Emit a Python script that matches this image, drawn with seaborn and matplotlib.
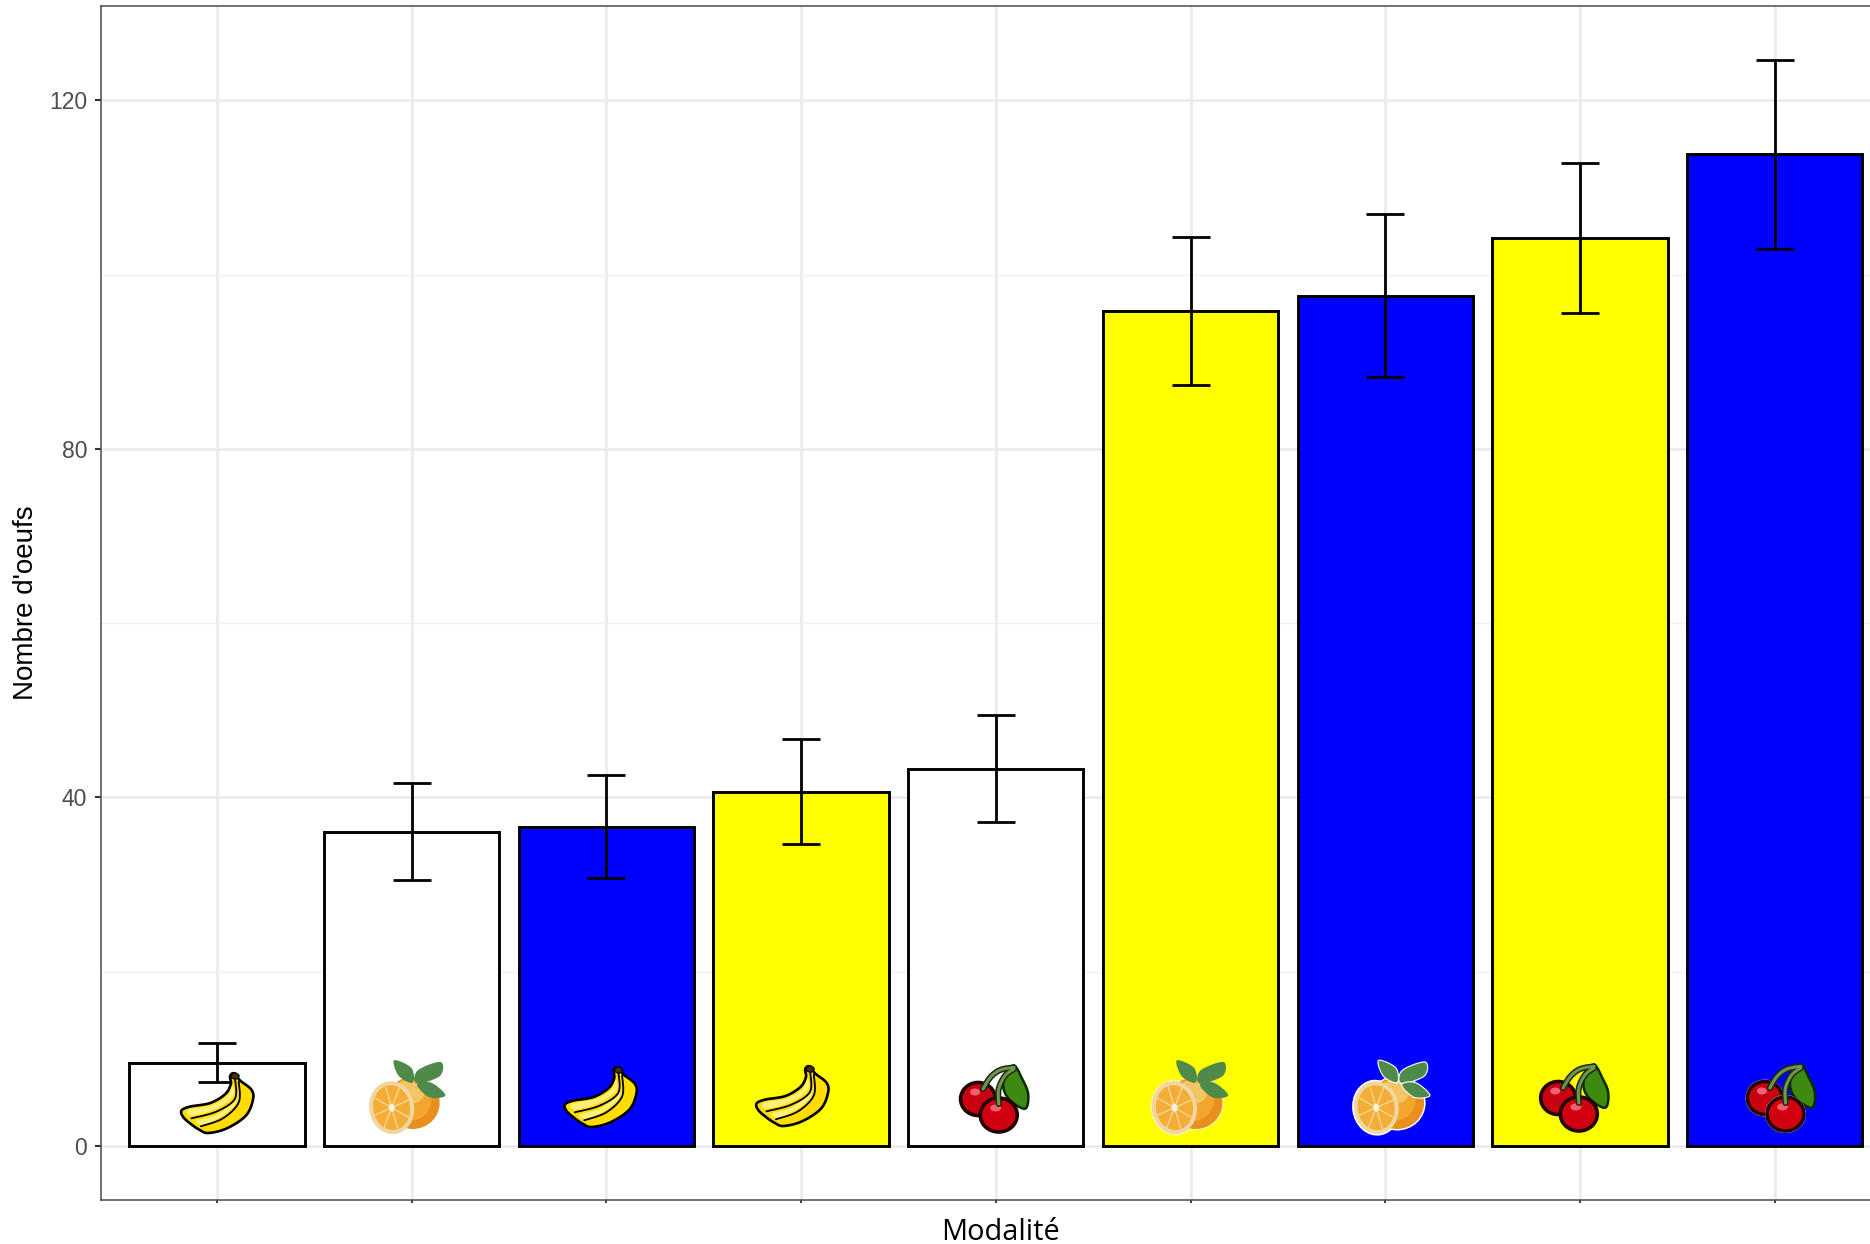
import numpy as np
import pandas as pd
import matplotlib
matplotlib.use("Agg")
import matplotlib.pyplot as plt
import seaborn as sns
from matplotlib.patches import Ellipse, PathPatch
from matplotlib.path import Path
from matplotlib.transforms import Affine2D

# ---- data
modalities = ["Banane-Témoin", "Orange-Témoin", "Banane-Bleu", "Banane-Jaune", "Cerise-Témoin",
              "Orange-Jaune", "Orange-Bleu", "Cerise-Jaune", "Cerise-Bleu"]
fruits = ["banana", "orange", "banana", "banana", "cherry", "orange", "orange", "cherry", "cherry"]
bar_colors = ["white", "white", "blue", "yellow", "white", "yellow", "blue", "yellow", "blue"]
eggs = [9.5, 36.0, 36.6, 40.6, 43.3, 95.8, 97.5, 104.2, 113.8]
err_low = [7.3, 30.5, 30.7, 34.6, 37.2, 87.3, 88.2, 95.6, 102.9]
err_high = [11.8, 41.6, 42.6, 46.7, 49.4, 104.3, 106.9, 112.8, 124.6]
y_ticks = [0, 40, 80, 120]
y_minor = [20, 60, 100]

# icon placement relative to each bar (px from bar centre, px above y=0)
icon_dx = [0, -5, -6, -9, -2, -1, 6, -6, 6]
icon_dy = [43, 49, 49, 50, 48, 49, 49, 49, 49]

W, H = 1870, 1244
L, T, B = 101, 6, 1200
sns.set_theme(style="white")
plt.rcParams["font.family"] = ["Liberation Sans", "DejaVu Sans"]

fig = plt.figure(figsize=(W / 100, H / 100), dpi=100, facecolor="white")
ax = fig.add_axes([L / W, 1 - B / H, 1 - L / W, (B - T) / H])

df = pd.DataFrame({"mod": modalities, "eggs": eggs})
sns.barplot(data=df, x="mod", y="eggs", hue="mod", order=modalities, hue_order=modalities,
            palette=bar_colors, legend=False, width=0.9, edgecolor="black", linewidth=2.1,
            saturation=1, ax=ax, zorder=3, errorbar=None)
xs = np.arange(len(modalities))
eggs_a = np.array(eggs)
ax.errorbar(xs, eggs_a, yerr=[eggs_a - np.array(err_low), np.array(err_high) - eggs_a], fmt="none",
            ecolor="black", elinewidth=2.0, capsize=13.5, capthick=2.0, zorder=4)

x0, x8 = 217, 1774.6
ux = (x8 - x0) / 8
y0_px, y120_px = 1146.0, 100.2
uy = (y0_px - y120_px) / 120
ax.set_xlim(-(x0 - L) / ux, (W - x0) / ux)
ax.set_ylim(-(B - y0_px) / uy, (y0_px - T) / uy)

ax.set_axisbelow(True)
ax.set_yticks(y_ticks)
ax.set_yticks(y_minor, minor=True)
ax.set_xticks(xs)
ax.set_xticklabels([])
ax.grid(True, which="major", color="#EBEBEB", lw=1.9)
ax.grid(True, which="minor", axis="y", color="#F0F0F0", lw=1.0)
ax.tick_params(axis="y", which="major", length=4.5, width=1.5, color="#333333", labelcolor="#4D4D4D",
               labelsize=16.5, pad=5.5, left=True)
ax.tick_params(axis="y", which="minor", length=0)
ax.tick_params(axis="x", which="major", length=2.5, width=1.3, color="#333333", bottom=True)
for s in ["left", "top", "bottom"]:
    ax.spines[s].set_color("#4A4A4A")
    ax.spines[s].set_linewidth(1.1)
ax.spines["right"].set_visible(False)

ax.set_ylabel("Nombre d'oeufs", fontsize=20, color="black")
ax.yaxis.set_label_coords((39 - L) / (W - L), 0.5)
ax.set_xlabel("Modalité", fontsize=20.8, color="black", family=["Open Sans", "DejaVu Sans"])
ax.xaxis.set_label_coords((1000 - L) / (W - L), -(1232 - B) / (B - T))
ax.xaxis.label.set_verticalalignment("center")


# ---- hand-drawn fruit icons (coordinates are local px, y up, around the icon centre)
def smooth(points, closed=True, n=12):
    p = np.asarray(points, float)
    m = len(p)
    out = []
    rng = range(m) if closed else range(m - 1)
    for i in rng:
        if closed:
            a, b, c, d = p[(i - 1) % m], p[i], p[(i + 1) % m], p[(i + 2) % m]
        else:
            a, b, c, d = p[max(i - 1, 0)], p[i], p[i + 1], p[min(i + 2, m - 1)]
        for t in np.linspace(0, 1, n, endpoint=False):
            out.append(0.5 * (2 * b + (c - a) * t + (2 * a - 5 * b + 4 * c - d) * t ** 2
                              + (3 * b - a - 3 * c + d) * t ** 3))
    if not closed:
        out.append(p[-1])
    return np.array(out)


def zoomed(points, c, sx, sy):
    return (np.asarray(points, float) - np.asarray(c)) / np.array([sx, -sy])


def draw_icon(kind, cx, cy, bg):
    tr = Affine2D().scale(1 / ux, 1 / uy).translate(cx, cy / uy) + ax.transData

    def shape(points, fc, ec="none", lw=0, z=6, close=True, sm=True):
        v = smooth(points, closed=close) if sm else np.asarray(points, float)
        if close:
            v = np.vstack([v, v[:1]])
        ax.add_patch(PathPatch(Path(v), fc=fc if close else "none", ec=ec, lw=lw, zorder=z,
                               transform=tr, clip_on=False, joinstyle="round", capstyle="round"))

    def ell(x, y, w, h, angle, fc, ec="none", lw=0, z=6):
        ax.add_patch(Ellipse((x, y), w, h, angle=angle, fc=fc, ec=ec, lw=lw, zorder=z, transform=tr))

    if kind == "banana":
        f = lambda q: zoomed(q, (297, 252), 2.53, 3)
        outline = [(340, 163), (356, 185), (384, 212), (388, 242), (370, 290), (322, 328), (275, 342),
                   (252, 332), (232, 316), (212, 295), (207, 275), (228, 263), (280, 252), (318, 225),
                   (332, 195), (330, 172)]
        shape(f(outline), "#FFDD00", ec="black", lw=1.9, z=6)
        shape(f([(225, 272), (280, 260), (322, 232), (336, 200), (336, 235), (290, 272), (232, 290)]),
              "#FFF07A", z=6.1)
        shape(f([(245, 305), (295, 287), (335, 250), (346, 215), (345, 255), (305, 295), (262, 318)]),
              "#FFF07A", z=6.1)
        shape(f([(343, 182), (342, 240), (295, 278), (232, 298)]), "none", ec="black", lw=1.3, z=6.2,
              close=False)
        shape(f([(352, 188), (352, 250), (312, 298), (256, 322)]), "none", ec="black", lw=1.3, z=6.2,
              close=False)
        shape(f([(332, 170), (342, 161), (353, 170), (346, 180), (336, 178)]), "#4A2A00", ec="black",
              lw=0.8, z=6.3)
    elif kind == "orange":
        f = lambda q: zoomed(q, (780, 235), 2.53, 3)
        p = f([(795, 253)])[0]
        q = f([(742, 267)])[0]
        if bg != "white":
            halo = "white" if bg == "blue" else "#FFF2A0"
            ell(p[0], p[1], 57, 55, 0, halo, z=5.8)
            ell(q[0], q[1], 48, 56, 8, halo, z=5.8)
        ell(p[0], p[1], 54, 52, 0, "#E8901E", z=6)
        ell(p[0] - 3, p[1] + 3, 43, 42, 0, "#F2A62C", z=6.01)
        ell(p[0] - 3, p[1] + 11, 30, 24, 0, "#F5C564", z=6.02)
        ell(q[0], q[1], 45, 53, 8, "#F0D6A0", z=6.1)
        ell(q[0], q[1], 37, 45, 8, "#F4AE38", z=6.11)
        for a in np.deg2rad(np.arange(0, 360, 45) + 20):
            ax.plot([q[0], q[0] + 18 * np.cos(a)], [q[1], q[1] + 22 * np.sin(a)], color="#FAE0A8", lw=0.8,
                    zorder=6.12, transform=tr)
        ell(q[0], q[1], 6, 8, 8, "#FFF3D8", z=6.13)
        leaves = [[(795, 192), (760, 172), (748, 125), (792, 148)],
                  [(805, 194), (808, 155), (866, 130), (864, 172)],
                  [(806, 198), (842, 192), (878, 230), (838, 236)]]
        for lf in leaves:
            if bg == "blue":
                shape(f(lf), "#4F8A4A", ec="white", lw=0.8, z=6.4)
            else:
                shape(f(lf), "#4F8A4A", z=6.4)
    else:
        f = lambda q: zoomed(q, (962, 232), 2.036, 3)
        edge = "#F0D8C8" if bg == "blue" else "#210000"
        c1, c2 = f([(930, 235)])[0], f([(972, 283)])[0]
        shape(f([(1003, 135), (1020, 175), (1032, 220), (1026, 264), (996, 240), (982, 205), (985, 165)]),
              "#3E8A10", ec="#0C2A05", lw=1.8, z=6)
        ell(c1[0], c1[1], 35, 33, 0, "#C80010", ec="#210000", lw=2.6, z=6.1)
        ell(c2[0], c2[1], 37, 34, 0, "#D00010", ec="#210000", lw=2.6, z=6.3)
        if bg == "blue":
            ell(c1[0], c1[1], 39, 37, 0, edge, z=6.05)
            ell(c2[0], c2[1], 41, 38, 0, edge, z=6.25)
        ell(c1[0] - 3, c1[1] + 7, 10, 7, 0, "#F06070", z=6.2)
        ell(c2[0] - 3, c2[1] + 7, 11, 7, 0, "#F06070", z=6.4)
        stem = [[(940, 205), (955, 170), (975, 148), (1003, 140)],
                [(972, 250), (972, 205), (985, 165), (1003, 145)]]
        for st in stem:
            shape(f(st), "none", ec="#1C2A10", lw=4.4, z=6.5, close=False)
            shape(f(st), "none", ec="#6F9550", lw=2.2, z=6.6, close=False)


for i, kind in enumerate(fruits):
    draw_icon(kind, i + icon_dx[i] / ux, icon_dy[i], bar_colors[i])

fig.savefig("out.png", dpi=100, facecolor="white")
